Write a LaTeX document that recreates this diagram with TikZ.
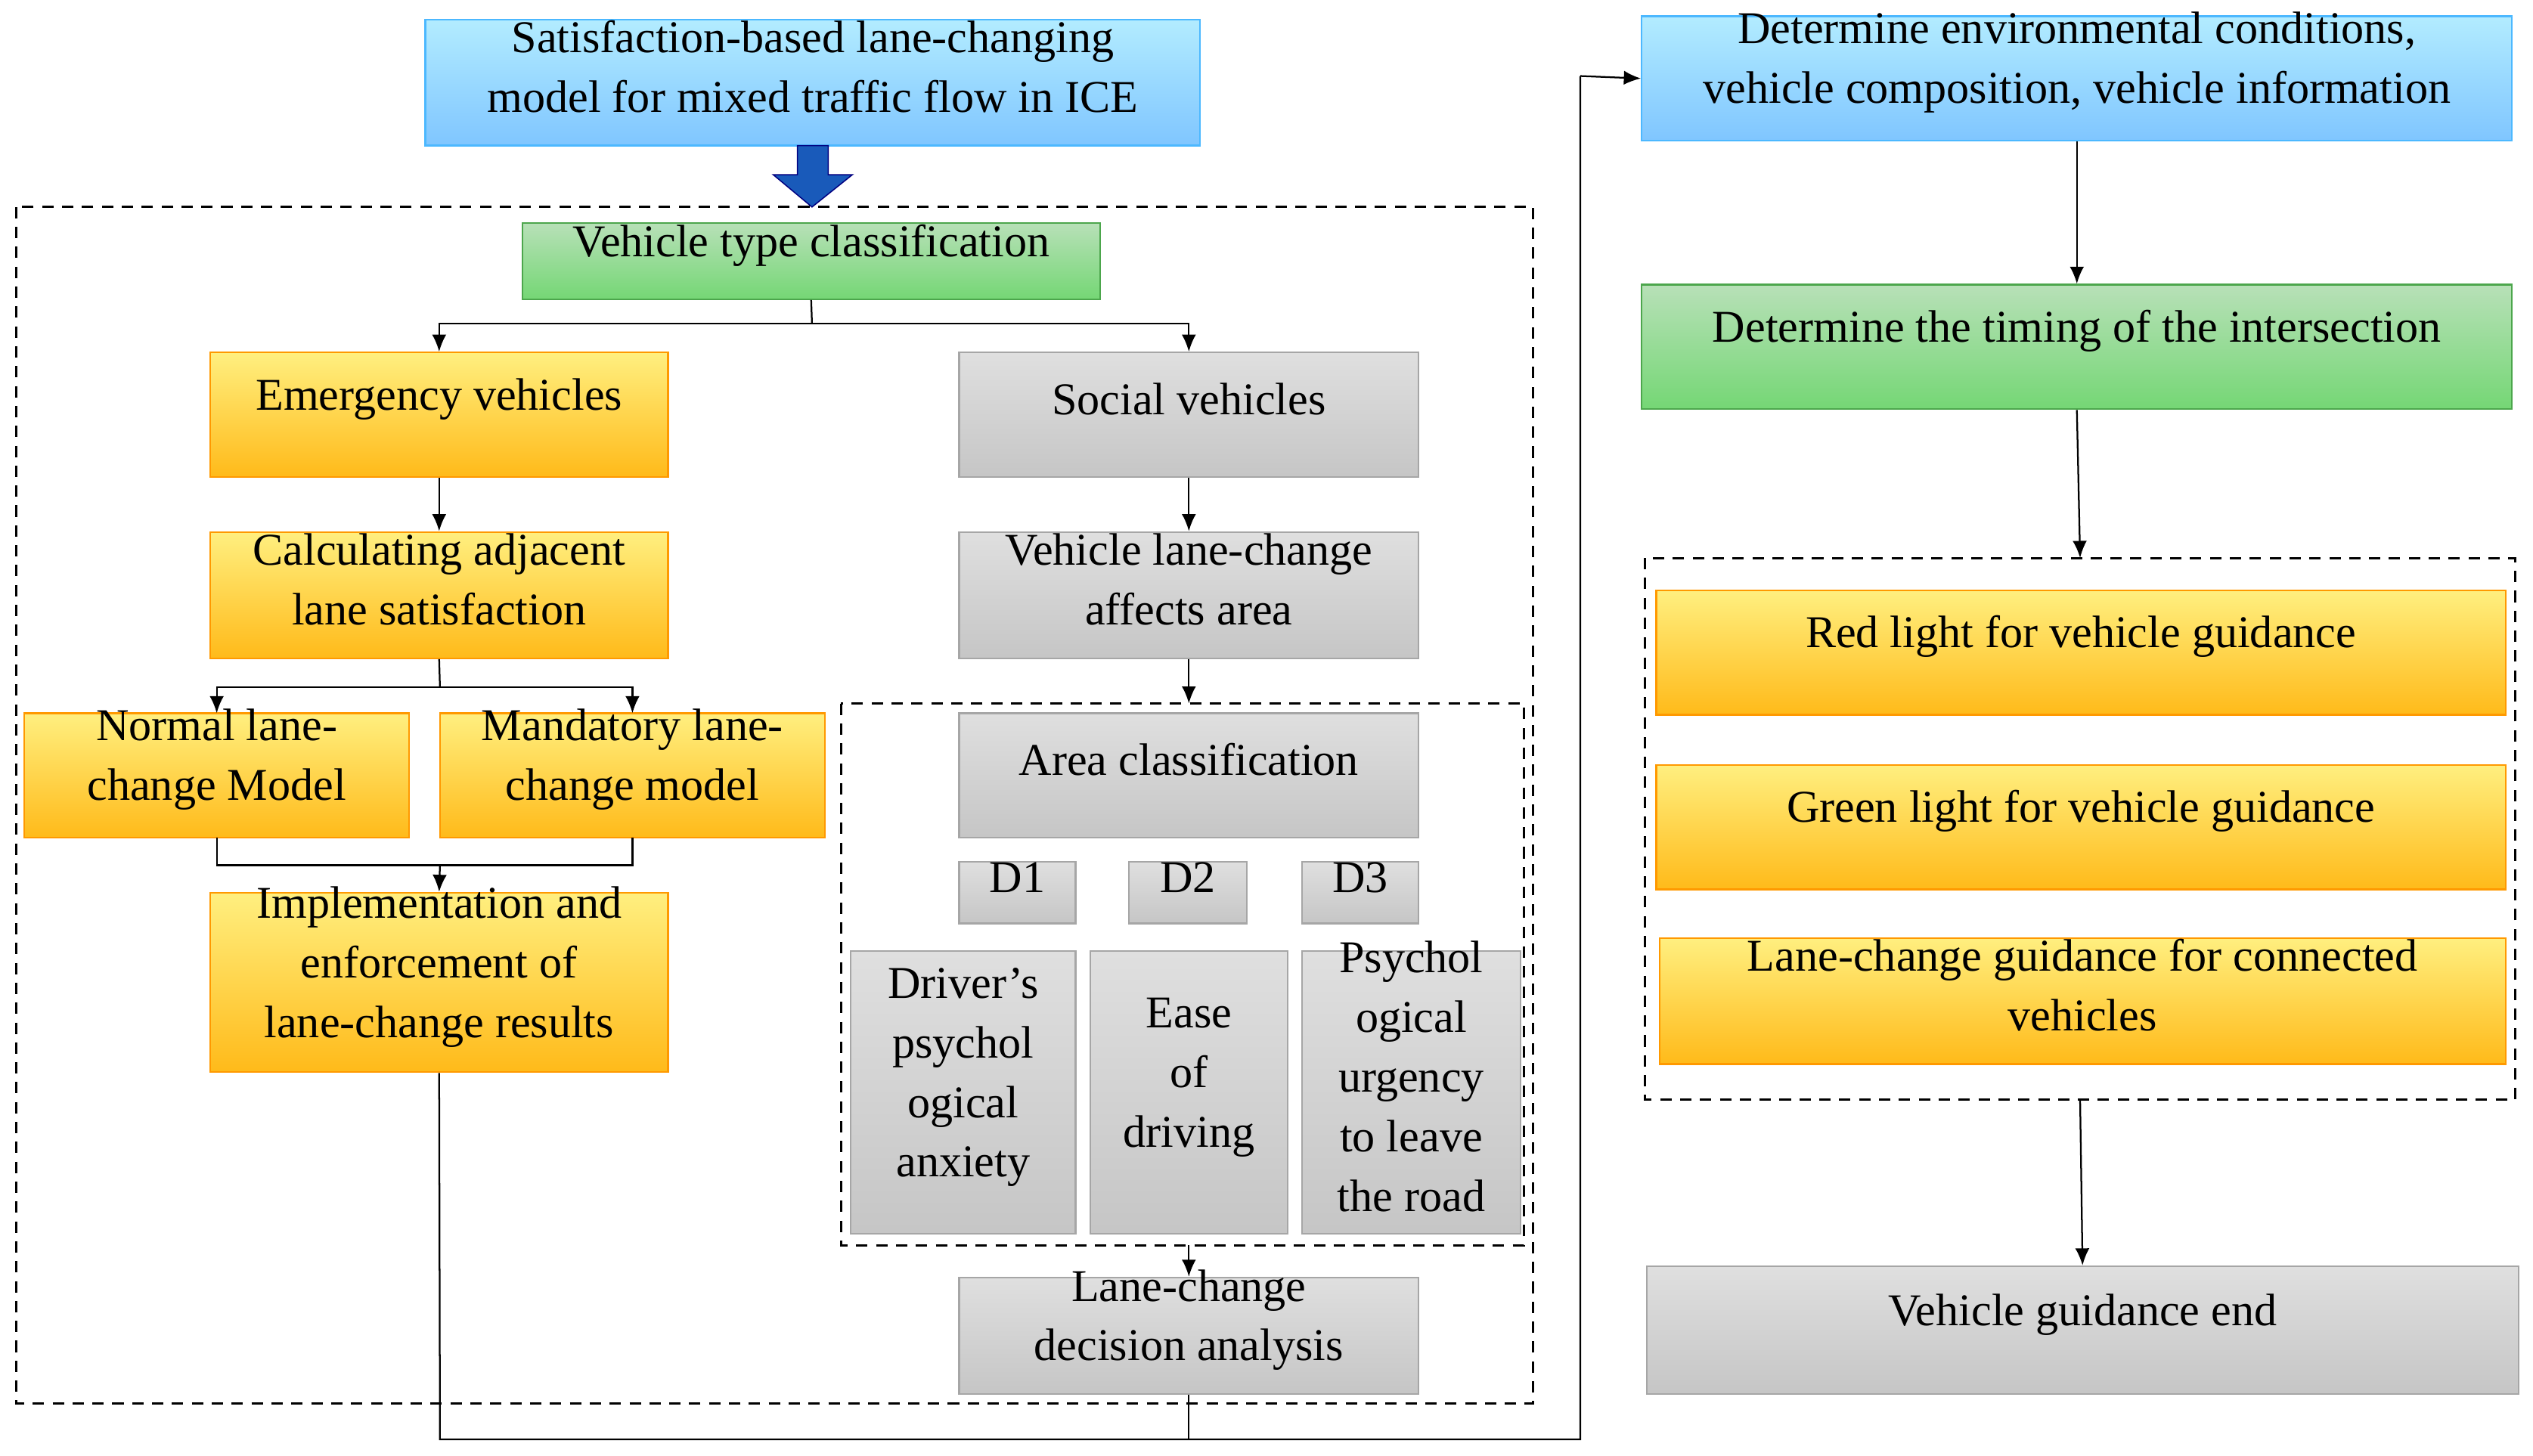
\documentclass[tikz,border=0pt]{standalone}
\usepackage{fontspec}
\setmainfont{Liberation Serif}
\usetikzlibrary{fit,arrows.meta}
\definecolor{obord}{HTML}{F4B183}
\begin{document}
\begin{tikzpicture}[x=0.02cm,y=-0.02cm,
  base/.style={draw,inner sep=0pt,align=center,font=\fontsize{16}{21}\selectfont,line width=0.6pt},
  org/.style={base,draw=orange!80!yellow,top color=orange!25!yellow!50,bottom color=orange!60!yellow!90},
  gry/.style={base,draw=gray!70,top color=gray!25,bottom color=gray!45},
  grn/.style={base,draw=green!50!black!70,top color=green!40!gray!40,bottom color=green!55!gray!70},
  blu/.style={base,draw=blue!40!cyan!70,top color=blue!25!cyan!30,bottom color=blue!45!cyan!50},
  dbox/.style={draw,dashed,line width=0.8pt,dash pattern=on 4pt off 3pt},
  ar/.style={-{Latex[length=6pt,width=5pt]},line width=0.6pt},
  ln/.style={line width=0.6pt}]
\useasboundingbox (0,0) rectangle (1566,900);
\newcommand\bx[7]{\node[#2,fit={(#3,#4)(#5,#6)}] (#1) {#7};}
% dashed boxes
\draw[dbox] (10,128) rectangle (948,868);
\draw[dbox] (520,435) rectangle (942,770);
\draw[dbox] (1017,345) rectangle (1555,680);
\coordinate (b2t) at (735,435); \coordinate (b2b) at (735,770);
\coordinate (b3t) at (1286,345); \coordinate (b3b) at (1286,680);
% nodes
\bx{title}{blu}{263}{12}{742}{90}{Satisfaction-based lane-changing\\model for mixed traffic flow in ICE}
\bx{vtc}{grn}{323}{138}{680}{185}{Vehicle type classification}
\bx{emerg}{org}{130}{218}{413}{295}{Emergency vehicles}
\bx{social}{gry}{593}{218}{877}{295}{Social vehicles}
\bx{calc}{org}{130}{329}{413}{407}{Calculating adjacent\\lane satisfaction}
\bx{affects}{gry}{593}{329}{877}{407}{Vehicle lane-change\\affects area}
\bx{normal}{org}{15}{441}{253}{518}{Normal lane-\\change Model}
\bx{mand}{org}{272}{441}{510}{518}{Mandatory lane-\\change model}
\bx{impl}{org}{130}{552}{413}{663}{Implementation and\\enforcement of\\lane-change results}
\bx{area}{gry}{593}{441}{877}{518}{Area classification}
\bx{d1}{gry}{593}{533}{665}{571}{D1}
\bx{d2}{gry}{698}{533}{771}{571}{D2}
\bx{d3}{gry}{805}{533}{877}{571}{D3}
\bx{anx}{gry}{526}{588}{665}{763}{Driver’s\\psychol\\ogical\\anxiety}
\bx{ease}{gry}{674}{588}{796}{763}{Ease\\of\\driving}
\bx{urg}{gry}{805}{588}{940}{763}{Psychol\\ogical\\urgency\\to leave\\the road}
\bx{dec}{gry}{593}{790}{877}{862}{Lane-change\\decision analysis}
\bx{env}{blu}{1015}{10}{1553}{87}{Determine environmental conditions,\\vehicle composition, vehicle information}
\bx{timing}{grn}{1015}{176}{1553}{253}{Determine the timing of the intersection}
\bx{red}{org}{1024}{365}{1549}{442}{Red light for vehicle guidance}
\bx{greenl}{org}{1024}{473}{1549}{550}{Green light for vehicle guidance}
\bx{lcg}{org}{1026}{580}{1549}{658}{Lane-change guidance for connected\\vehicles}
\bx{end}{gry}{1018}{783}{1557}{862}{Vehicle guidance end}
% big arrow
\fill[blue!60!cyan!70!black!90,draw=blue!50!black] (493,90) -- (512,90) -- (512,108) -- (527,108) -- (502,128) -- (478,108) -- (493,108) -- cycle;
% connectors
\coordinate (j1) at (502,200);
\draw[ln] (vtc.south) -- (j1);
\draw[ar] (j1) -| (emerg.north);
\draw[ar] (j1) -| (social.north);
\draw[ar] (emerg) -- (calc);
\draw[ar] (social) -- (affects);
\coordinate (j2) at (272,425);
\draw[ln] (calc.south) -- (j2);
\draw[ar] (j2) -| (134,441);
\draw[ar] (j2) -| (391,441);
\coordinate (j3) at (272,535);
\draw[ln] (134,518) |- (j3) -| (391,518);
\draw[ar] (j3) -- (impl.north);
\draw[ar] (affects.south) -- (b2t);
\draw[ar] (b2b) -- (dec.north);
\coordinate (j4) at (272,890);
\coordinate (j5) at (977,890);
\coordinate (j6) at (977,47);
\draw[ln] (impl.south) -- (j4) -- (j5) -- (j6);
\draw[ar] (j6) -- (env.west);
\draw[ln] (dec.south) -- (735,890);
\draw[ar] (env) -- (timing);
\draw[ar] (timing.south) -- (b3t);
\draw[ar] (b3b) -- (end.north);
\end{tikzpicture}
\end{document}
